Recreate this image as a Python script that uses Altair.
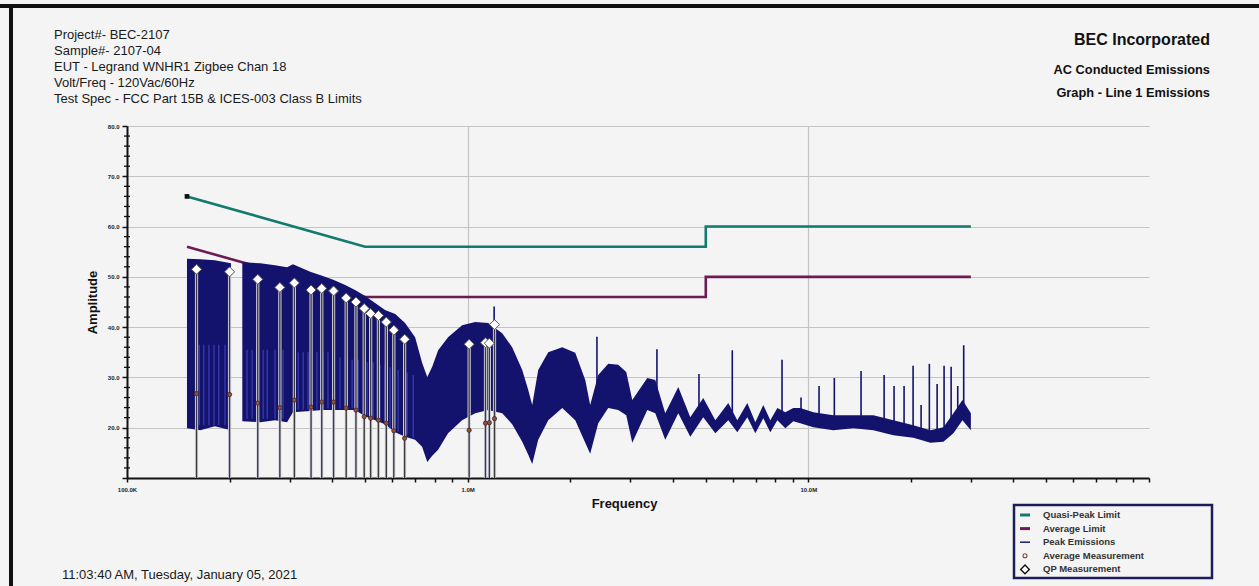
import altair as alt
import pandas as pd

# ---- header / footer text ----
header_left = [
    "Project#- BEC-2107",
    "Sample#- 2107-04",
    "EUT - Legrand WNHR1 Zigbee Chan 18",
    "Volt/Freq - 120Vac/60Hz",
    "Test Spec - FCC Part 15B & ICES-003 Class B Limits",
]
company = "BEC Incorporated"
report_lines = ["AC Conducted Emissions", "Graph - Line 1 Emissions"]
timestamp = "11:03:40 AM, Tuesday, January 05, 2021"

# ---- limit lines (MHz, dBuV) ----
limit_freq = [0.15, 0.5, 5.0, 5.0, 30.0]
qp_limit_db = [66, 56, 56, 60, 60]
avg_limit_db = [56, 46, 46, 50, 50]

# ---- peak emissions sweep: upper / lower envelope ----
seg1_freq = [0.150, 0.164, 0.181, 0.202]
seg1_top = [53.6, 53.5, 53.3, 52.7]
seg1_bot = [19.9, 19.5, 20.3, 19.5]

seg2_freq = [0.218, 0.246, 0.272, 0.295, 0.307, 0.345, 0.374, 0.403, 0.437, 0.467,
             0.500, 0.535, 0.572, 0.613, 0.655, 0.701, 0.735, 0.761, 0.787, 0.819,
             0.876, 0.963, 1.052, 1.149, 1.263, 1.351, 1.446, 1.506, 1.547, 1.611,
             1.724, 1.895, 2.069, 2.214, 2.289, 2.417, 2.586, 2.767, 2.921, 3.042,
             3.367, 3.554, 3.802, 4.152, 4.503, 4.915, 5.333, 5.821, 6.187, 6.621,
             6.988, 7.376, 7.733, 8.110, 8.560, 9.033, 9.473, 10.34, 11.84, 13.56,
             15.52, 17.77, 20.34, 22.82, 24.92, 26.66, 28.34, 30.0]
seg2_top = [52.9, 52.7, 52.3, 51.9, 52.5, 51.0, 50.2, 49.4, 48.4, 47.4,
            46.2, 44.8, 43.4, 42.6, 40.8, 38.0, 32.9, 30.1, 32.1, 35.4,
            38.0, 40.4, 41.0, 40.8, 38.8, 36.0, 31.5, 27.5, 24.5, 31.5,
            35.0, 36.0, 34.9, 29.5, 24.5, 30.5, 32.7, 32.5, 31.1, 25.5,
            29.9, 29.5, 22.9, 28.1, 22.1, 25.9, 21.5, 24.9, 21.5, 24.9,
            21.1, 24.5, 21.5, 23.9, 23.1, 23.9, 23.9, 23.1, 22.5, 22.5,
            22.5, 21.5, 20.5, 19.5, 20.1, 22.9, 25.5, 22.9]
seg2_bot = [21.3, 21.1, 21.5, 21.1, 23.1, 23.3, 23.5, 23.5, 23.5, 23.5,
            22.3, 21.5, 20.7, 19.1, 18.2, 17.6, 16.2, 13.2, 14.4, 15.6,
            18.9, 21.5, 22.9, 23.5, 22.9, 20.7, 17.2, 14.6, 12.8, 17.6,
            21.5, 23.9, 21.5, 17.0, 14.8, 20.9, 23.9, 23.5, 22.5, 17.0,
            23.5, 22.9, 17.6, 22.9, 18.2, 22.1, 18.9, 21.5, 19.1, 22.1,
            18.9, 21.9, 19.1, 21.5, 19.9, 21.3, 20.9, 20.1, 19.5, 19.9,
            19.5, 18.5, 18.0, 17.0, 17.2, 18.9, 21.5, 19.5]

# thinner sweep passes in the low-frequency block (lighter streaks)
streak_freq = [0.163, 0.168, 0.174, 0.180, 0.186, 0.194,
               0.225, 0.233, 0.241, 0.251, 0.258, 0.272, 0.287,
               0.318, 0.329, 0.340, 0.361, 0.376, 0.389,
               0.422, 0.443, 0.458, 0.477, 0.507, 0.528, 0.553, 0.573, 0.592,
               0.625, 0.664, 0.692]
streak_top = [36.5, 36.5, 36.5, 36.5, 36.5, 36.5,
              35.5, 35.5, 35.5, 35.5, 35.5, 35.5, 35.5,
              35.0, 35.0, 35.0, 35.0, 35.0, 35.0,
              34.0, 34.0, 33.5, 33.5, 33.0, 33.0, 32.5, 32.5, 32.0,
              31.5, 31.0, 30.5]
streak_bot = [20.5, 20.5, 20.5, 20.5, 20.5, 20.5,
              21.8, 21.8, 21.8, 21.8, 21.8, 21.8, 21.8,
              23.6, 23.6, 23.6, 23.6, 23.8, 23.8,
              23.8, 23.8, 23.8, 23.2, 22.5, 21.8, 21.2, 20.8, 20.0,
              19.2, 18.6, 18.0]

# narrow-band spikes rising out of the sweep
spike_freq = [1.196, 2.396, 3.594, 4.775, 5.981, 8.371, 9.517, 10.75, 11.92, 14.28,
              16.69, 17.85, 19.10, 20.30, 21.43, 22.66, 23.88, 25.03, 26.25, 27.45, 28.58]
spike_top = [44.1, 38.1, 35.6, 30.7, 35.4, 33.5, 26.0, 28.3, 29.9, 31.3,
             30.5, 28.3, 28.3, 32.3, 24.5, 32.7, 28.7, 32.3, 32.1, 28.3, 36.4]
spike_base = [39.0, 28.0, 26.0, 23.0, 23.0, 21.5, 22.0, 21.5, 21.0, 21.0,
              20.5, 20.0, 19.5, 19.0, 18.5, 18.5, 18.5, 18.5, 20.0, 22.0, 23.0]

# ---- measurements ----
meas_freq = [0.160, 0.200, 0.242, 0.281, 0.310, 0.347, 0.373, 0.404, 0.440, 0.470,
             0.497, 0.519, 0.547, 0.577, 0.607, 0.653, 1.010, 1.128, 1.158, 1.199]
qp_meas_db = [51.5, 51.0, 49.5, 47.9, 48.8, 47.4, 47.7, 47.2, 45.8, 45.0,
              43.7, 42.7, 42.3, 41.0, 39.4, 37.6, 36.6, 36.9, 36.8, 40.5]
avg_meas_db = [26.8, 26.6, 24.9, 24.0, 25.5, 24.1, 25.1, 25.1, 23.9, 23.5,
               22.2, 21.9, 21.5, 20.9, 19.4, 17.9, 19.5, 20.9, 21.0, 21.8]

legend_names = ["Quasi-Peak Limit", "Average Limit", "Peak Emissions",
                "Average Measurement", "QP Measurement"]

# ---- colours / fonts ----
BG = "#f4f4f4"
QP_COLOR = "#127a6e"
AVG_COLOR = "#6e1a55"
NAVY = "#13136e"
STREAK = "#3d3db4"
FRAME = "#1c1c5a"
FONT = "Liberation Sans"
NARROW = "Liberation Sans Narrow, Liberation Sans"

W, H = 1022, 352

# ---- tables ----
limits = pd.DataFrame({
    "f": limit_freq * 2,
    "db": qp_limit_db + avg_limit_db,
    "lim": ["qp"] * len(limit_freq) + ["avg"] * len(limit_freq),
    "i": list(range(len(limit_freq))) * 2,
})
band = pd.DataFrame({
    "f": seg1_freq + seg2_freq,
    "top": seg1_top + seg2_top,
    "bot": seg1_bot + seg2_bot,
    "seg": ["a"] * len(seg1_freq) + ["b"] * len(seg2_freq),
})
streaks = pd.DataFrame({"f": streak_freq, "top": streak_top, "bot": streak_bot})
spikes = pd.DataFrame({"f": spike_freq, "top": spike_top, "base": spike_base})
meas = pd.DataFrame({"f": meas_freq, "qp": qp_meas_db, "avg": avg_meas_db, "floor": 10})
minor_y = pd.DataFrame({"v": [v for v in range(12, 80, 2) if v % 10]})
one = pd.DataFrame({"k": [0]})

x_ticks = [0.1, 0.2, 0.3, 0.4, 0.5, 0.6, 0.7, 0.8, 0.9,
           1, 2, 3, 4, 5, 6, 7, 8, 9,
           10, 20, 30, 40, 50, 60, 70, 80, 90, 100]
y_ticks = [10, 20, 30, 40, 50, 60, 70, 80]

xscale = alt.Scale(type="log", domain=[0.1, 100], nice=False)
yscale = alt.Scale(domain=[10, 80], nice=False, zero=False)

x_axis = alt.Axis(
    values=x_ticks,
    labelExpr="datum.value == 0.1 ? '100.0K' : datum.value == 1 ? '1.0M' : datum.value == 10 ? '10.0M' : ''",
    labelFontSize=6, labelFontWeight="bold", labelColor="#222", labelFont=FONT,
    labelPadding=4, labelOverlap=False, labelFlush=False,
    tickSize=4, tickWidth=1.5, tickColor="#111",
    domainColor="#111", domainWidth=2,
    grid=True, gridColor="#c4c4c4", gridWidth=1.2,
    gridOpacity={"condition": {"test": "datum.value == 1 || datum.value == 10", "value": 1}, "value": 0},
    title="Frequency", titleFont=NARROW, titleFontSize=13, titleFontWeight="bold",
    titleColor="#111", titleX=497, titleY=19, titleBaseline="top", titleAlign="center",
)
y_axis = alt.Axis(
    values=y_ticks,
    labelExpr="datum.value > 10 ? format(datum.value, '.1f') : ''",
    labelFontSize=6, labelFontWeight="bold", labelColor="#222", labelFont=FONT,
    labelPadding=3, labelOverlap=False,
    tickSize=5, tickWidth=1.5, tickColor="#111",
    domainColor="#111", domainWidth=2,
    grid=True, gridColor="#c4c4c4", gridWidth=1.2,
    title="Amplitude", titleFont=NARROW, titleFontSize=13, titleFontWeight="bold",
    titleColor="#111", titleX=-35, titleY=176, titleBaseline="middle", titleAlign="center",
    titleAngle=-90,
)

# limit lines
qp_line = alt.Chart(limits).transform_filter("datum.lim == 'qp'").mark_line(
    color=QP_COLOR, strokeWidth=2.6).encode(
    x=alt.X("f:Q", scale=xscale, axis=x_axis),
    y=alt.Y("db:Q", scale=yscale, axis=y_axis),
    order="i:Q",
)
avg_line = alt.Chart(limits).transform_filter("datum.lim == 'avg'").mark_line(
    color=AVG_COLOR, strokeWidth=2.6).encode(
    x=alt.X("f:Q", scale=xscale), y=alt.Y("db:Q", scale=yscale), order="i:Q",
)
qp_start = alt.Chart(limits).transform_filter("datum.lim == 'qp' && datum.i == 0").mark_point(
    shape="square", filled=True, color="#111", size=22, opacity=1).encode(
    x=alt.X("f:Q", scale=xscale), y=alt.Y("db:Q", scale=yscale),
)

# minor amplitude ticks crossing the axis line
minor_ticks = alt.Chart(minor_y).mark_rule(color="#111", strokeWidth=1.3).encode(
    x=alt.value(-3), x2=alt.value(3), y=alt.Y("v:Q", scale=yscale),
)

# peak sweep band
sweep = alt.Chart(band).mark_area(color=NAVY, opacity=1, interpolate="linear").encode(
    x=alt.X("f:Q", scale=xscale),
    y=alt.Y("top:Q", scale=yscale),
    y2="bot:Q",
    detail="seg:N",
)
streak_rules = alt.Chart(streaks).mark_rule(color=STREAK, strokeWidth=1.2).encode(
    x=alt.X("f:Q", scale=xscale), y=alt.Y("top:Q", scale=yscale), y2="bot:Q",
)
spike_rules = alt.Chart(spikes).mark_rule(color=NAVY, strokeWidth=1.6).encode(
    x=alt.X("f:Q", scale=xscale),
    y=alt.Y("top:Q", scale=yscale),
    y2="base:Q",
)

# measurement drop lines (light halo inside the sweep) and markers
drop_halo = alt.Chart(meas).mark_rule(color="#d8d8e6", strokeWidth=3.2).encode(
    x=alt.X("f:Q", scale=xscale), y=alt.Y("floor:Q", scale=yscale), y2="qp:Q",
)
drop_lines = alt.Chart(meas).mark_rule(color="#3a3a3a", strokeWidth=1.4).encode(
    x=alt.X("f:Q", scale=xscale), y=alt.Y("floor:Q", scale=yscale), y2="qp:Q",
)
avg_pts = alt.Chart(meas).mark_point(
    shape="circle", filled=True, fill="#9a4e3c", stroke="#3a2622", strokeWidth=0.8,
    size=18, opacity=1).encode(
    x=alt.X("f:Q", scale=xscale), y=alt.Y("avg:Q", scale=yscale),
)
qp_pts = alt.Chart(meas).mark_point(
    shape="diamond", filled=True, fill="white", stroke="#555", strokeWidth=1,
    size=100, opacity=1).encode(
    x=alt.X("f:Q", scale=xscale), y=alt.Y("qp:Q", scale=yscale),
)

# ---- legend panel (bottom right, below the plot) ----
LEG_X, LEG_Y, ROW = 887, 379, 13.6
SYM_X = LEG_X + 11
row_y = [LEG_Y + 10 + ROW * i for i in range(len(legend_names))]

legend_box = alt.Chart(one).mark_rect(
    fill=BG, fillOpacity=0, stroke=FRAME, strokeWidth=2.5).encode(
    x=alt.value(LEG_X), x2=alt.value(LEG_X + 198),
    y=alt.value(LEG_Y), y2=alt.value(LEG_Y + 73))
legend_text = alt.Chart(one).mark_text(
    align="left", baseline="middle", font=FONT, fontSize=9.5, fontWeight="bold",
    color="#333", lineBreak="\n", lineHeight=ROW).encode(
    x=alt.value(LEG_X + 29), y=alt.value(row_y[0]), text=alt.value("\n".join(legend_names)))
legend_swatches = [
    alt.Chart(one).mark_rule(color=c, strokeWidth=w).encode(
        x=alt.value(SYM_X - 5), x2=alt.value(SYM_X + 5), y=alt.value(row_y[i]))
    for i, (c, w) in enumerate([(QP_COLOR, 3), (AVG_COLOR, 3), ("#2a2a7a", 1.6)])
]
legend_avg = alt.Chart(one).mark_point(
    shape="circle", filled=False, color="#7a4a3a", strokeWidth=1.1, size=16, opacity=1).encode(
    x=alt.value(SYM_X), y=alt.value(row_y[3]))
legend_qp = alt.Chart(one).mark_point(
    shape="diamond", filled=True, fill="white", stroke="#111", strokeWidth=1.4,
    size=75, opacity=1).encode(
    x=alt.value(SYM_X), y=alt.value(row_y[4]))

# ---- header / footer ----
head_left = alt.Chart(one).mark_text(
    align="left", baseline="middle", font=FONT, fontSize=13, color="#1a1a1a",
    lineBreak="\n", lineHeight=16).encode(
    x=alt.value(-73), y=alt.value(-91), text=alt.value("\n".join(header_left)))
head_company = alt.Chart(one).mark_text(
    align="right", baseline="middle", font=FONT, fontSize=16, fontWeight="bold",
    color="#111").encode(x=alt.value(1083), y=alt.value(-86), text=alt.value(company))
head_report = alt.Chart(one).mark_text(
    align="right", baseline="middle", font=NARROW, fontSize=12.8, fontWeight="bold",
    color="#111", lineBreak="\n", lineHeight=23).encode(
    x=alt.value(1083), y=alt.value(-56), text=alt.value("\n".join(report_lines)))
foot = alt.Chart(one).mark_text(
    align="left", baseline="middle", font=FONT, fontSize=13, color="#1a1a1a").encode(
    x=alt.value(-65), y=alt.value(449), text=alt.value(timestamp))

# frame edges of the printout
frame_top = alt.Chart(one).mark_rule(color="#111", strokeWidth=4).encode(
    x=alt.value(-127), x2=alt.value(1132), y=alt.value(-120))
frame_left = alt.Chart(one).mark_rule(color="#111", strokeWidth=4).encode(
    x=alt.value(-116), y=alt.value(-122), y2=alt.value(460))

chart = alt.layer(
    qp_line, avg_line, minor_ticks, sweep, streak_rules, spike_rules,
    drop_halo, drop_lines, avg_pts, qp_pts, qp_start,
    legend_box, legend_text, *legend_swatches, legend_avg, legend_qp,
    head_left, head_company, head_report, foot,
    frame_top, frame_left,
).properties(
    width=W, height=H, background=BG,
    padding={"left": 127, "top": 126, "right": 110, "bottom": 108},
    autosize=alt.AutoSizeParams(type="none"),
).configure_view(stroke=None, fill=BG)

chart.save("out.html", embed_options={"renderer": "svg", "actions": False})
